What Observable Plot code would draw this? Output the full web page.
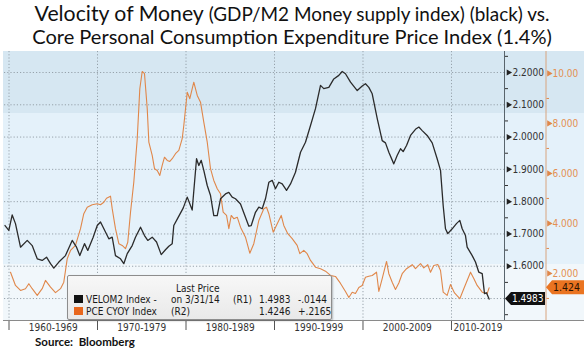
<!DOCTYPE html>
<html><head><meta charset="utf-8">
<script src="https://cdn.jsdelivr.net/npm/d3@7"></script>
<script src="https://cdn.jsdelivr.net/npm/@observablehq/plot@0.6"></script>
<style>
body{margin:0;background:#fff;}
#wrap{position:relative;width:584px;height:353px;overflow:hidden;font-family:"DejaVu Sans Condensed","DejaVu Sans",sans-serif;}
#bg{position:absolute;left:3px;top:51px;width:581px;height:269px;
 background:linear-gradient(to bottom,#d6e7f2 0px,#d6e7f2 62px,#e4f1fa 62px,#e4f1fa 213px,#f1f7fb 213px,#f1f7fb 269px);}
.tl{position:absolute;left:0;width:584px;text-align:center;white-space:nowrap;font-family:Lato,"Open Sans",sans-serif;color:#111;line-height:1.2;}
.tl span.in{display:inline-block;}
#chart{position:absolute;left:0;top:48px;}
#xline{position:absolute;left:3px;top:320px;width:581px;height:1px;background:#8a8a8a;}
#legend{position:absolute;left:67px;top:275px;width:263px;height:43px;border:1px solid #8d8d8d;border-radius:2px;
 background:linear-gradient(to bottom,#f7f7f7,#e9e9e9);box-shadow:1px 1px 2px rgba(0,0,0,.25);font-size:10px;color:#1a1a1a;}
#legend span{position:absolute;white-space:nowrap;line-height:12px;}
#legend i{position:absolute;width:9px;height:8px;}
#source{position:absolute;left:35px;top:335px;font:bold 11.5px Lato,sans-serif;color:#111;line-height:1.2;}
</style></head>
<body>
<div id="wrap">
 <div id="bg"></div>
 <div class="tl" id="t1" style="top:1px;font-size:21px"><span class="in"><span>Velocity of Money</span><span style="font-size:0.89em"> (GDP/M2 Money supply index) (black) vs.</span></span></div>
 <div class="tl" id="t2" style="top:24px;font-size:21px"><span class="in">Core Personal Consumption Expenditure Price Index (1.4%)</span></div>
 <div id="chart"></div>
 <div id="xline"></div>
 <div id="legend"></div>
 <div id="source">Source:&nbsp; Bloomberg</div>
</div>
<script>
// ---- data ----
const velYears = [1959.55,1959.98,1960.36,1960.73,1961.30,1962.06,1962.62,1963.19,1963.75,1964.24,1964.69,1965.06,1965.63,1966.38,1967.14,1967.63,1968.00,1968.53,1968.90,1969.51,1969.97,1970.34,1970.90,1971.28,1971.66,1972.03,1972.60,1972.97,1973.36,1973.92,1974.29,1974.86,1975.31,1975.68,1976.18,1976.67,1977.20,1977.68,1978.06,1978.44,1978.62,1979.07,1979.68,1980.14,1980.70,1981.19,1981.45,1981.72,1982.01,1982.40,1982.77,1983.14,1983.53,1983.90,1984.46,1984.84,1985.22,1985.59,1986.16,1986.72,1987.10,1987.37,1987.85,1988.23,1988.61,1988.98,1989.36,1989.74,1990.11,1990.49,1990.87,1991.36,1991.81,1992.37,1992.94,1993.50,1994.07,1994.63,1995.20,1995.57,1996.14,1996.70,1997.27,1997.65,1998.02,1998.59,1999.35,1999.91,2000.28,2000.66,2001.04,2001.61,2002.17,2002.54,2002.92,2003.48,2003.86,2004.24,2004.54,2004.92,2005.37,2005.93,2006.31,2006.69,2007.25,2007.82,2008.38,2008.76,2009.06,2009.32,2009.58,2010.08,2010.56,2010.94,2011.21,2011.58,2011.77,2012.34,2012.71,2013.08,2013.47,2013.73,2013.95,2014.25];
const velValues = [1.726,1.711,1.759,1.732,1.659,1.680,1.664,1.623,1.618,1.628,1.608,1.594,1.613,1.633,1.680,1.659,1.633,1.670,1.649,1.690,1.726,1.737,1.706,1.685,1.690,1.633,1.623,1.608,1.639,1.664,1.690,1.721,1.695,1.680,1.690,1.675,1.636,1.651,1.662,1.670,1.726,1.749,1.780,1.814,1.774,1.933,1.912,1.928,1.897,1.850,1.819,1.757,1.757,1.809,1.824,1.829,1.814,1.809,1.793,1.752,1.724,1.726,1.767,1.783,1.778,1.809,1.860,1.866,1.840,1.860,1.855,1.835,1.855,1.891,1.953,1.984,2.036,2.088,2.160,2.150,2.154,2.180,2.191,2.203,2.196,2.170,2.144,2.158,2.165,2.154,2.134,2.057,1.989,1.982,1.953,1.917,1.943,1.964,1.955,1.974,2.005,2.024,2.031,2.020,2.005,1.982,1.933,1.897,1.788,1.716,1.701,1.716,1.732,1.742,1.716,1.695,1.659,1.633,1.613,1.582,1.577,1.515,1.518,1.4983];
const pceYears = [1960.17,1960.73,1961.30,1961.86,1962.24,1962.62,1963.19,1963.75,1964.12,1964.69,1965.25,1965.82,1966.19,1966.58,1966.95,1967.51,1968.08,1968.45,1968.84,1969.40,1969.97,1970.34,1970.71,1971.02,1971.47,1971.66,1972.03,1972.41,1972.79,1973.16,1973.42,1973.73,1974.10,1974.49,1974.78,1975.05,1975.31,1975.62,1975.80,1976.18,1976.44,1976.75,1977.04,1977.31,1977.57,1977.88,1978.17,1978.44,1978.81,1979.19,1979.57,1979.75,1980.14,1980.43,1980.88,1981.27,1981.64,1982.01,1982.40,1982.77,1983.14,1983.53,1983.90,1984.20,1984.58,1984.84,1985.11,1985.40,1985.79,1986.16,1986.72,1987.21,1987.66,1988.23,1988.79,1989.10,1989.36,1989.85,1990.31,1990.76,1991.05,1991.50,1992.00,1992.56,1992.86,1993.31,1993.69,1994.07,1994.63,1995.20,1995.76,1996.33,1996.89,1997.46,1998.02,1998.40,1998.78,1999.15,1999.53,1999.91,2000.28,2000.66,2001.04,2001.53,2001.79,2002.17,2002.66,2002.92,2003.30,2003.67,2004.05,2004.43,2004.92,2005.56,2005.93,2006.50,2006.87,2007.32,2007.63,2008.00,2008.45,2008.76,2009.06,2009.51,2009.89,2010.34,2010.94,2011.39,2012.15,2012.52,2012.90,2013.47,2014.03,2014.25];
const pceValues = [2.05,1.52,1.32,1.39,1.59,1.39,1.12,1.39,1.72,1.45,1.23,1.39,1.65,2.59,2.92,3.12,3.79,4.39,4.65,4.75,4.79,4.75,4.85,5.01,5.09,4.59,3.79,3.19,3.12,2.99,3.25,4.45,5.65,7.39,9.39,10.08,9.99,8.59,7.25,6.72,6.19,6.12,5.92,6.32,6.65,6.52,6.48,6.59,6.79,6.92,7.39,7.92,9.25,8.99,9.65,9.12,8.85,8.05,7.25,6.19,5.72,5.39,5.19,4.45,4.32,3.79,4.32,4.19,4.25,3.85,3.45,2.81,3.19,4.12,4.59,4.65,4.39,3.65,3.99,4.32,3.92,3.59,3.39,3.12,2.79,2.92,2.79,2.52,2.25,2.19,2.09,1.92,1.88,1.60,1.28,1.04,1.25,1.20,1.44,1.52,1.85,1.89,1.92,2.05,1.28,1.79,2.48,1.99,1.65,1.36,1.62,1.99,2.19,2.35,2.19,2.39,2.22,2.35,2.05,2.32,2.36,2.12,1.25,1.12,1.56,1.22,0.99,1.39,2.05,1.80,1.52,1.25,1.19,1.4246];
const leftTicks = [1.5,1.6,1.7,1.8,1.9,2.0,2.1,2.2];
const leftMinor = [1.45,1.55,1.65,1.75,1.85,1.95,2.05,2.15,2.25];
const rightTicks = [2,4,6,8,10];
const rightMinor = [1,3,5,7,9];
const decades = [1960,1970,1980,1990,2000,2010];
const decadeLabels = ["1960-1969","1970-1979","1980-1989","1990-1999","2000-2009","2010-2019"];
const lastVel = {label:"1.4983", value:1.4983};
const lastPce = {label:"1.424", value:1.4246};

// scale set-up (right axis % mapped onto left axis)
const xDomain = [1959.49, 2015.99];
const yDomain = [1.432, 2.265];
const rightAt0 = 1.4229, rightPerUnit = 0.07741;
const toLeft = o => rightAt0 + o * rightPerUnit;

const vel = velYears.map((t,i)=>({t, v:velValues[i]}));
const pce = pceYears.map((t,i)=>({t, v:pceValues[i]}));
const orange = "#e0874a", orangeText = "#e39052", grid = "#8e9aa3";
// label centres: middle of each decade, last one centred in what is left of the axis
const labelX = decades.map(d => Math.min(d + 5, (d + xDomain[1]) / 2));
const shownLeft = leftTicks.filter(v => Math.abs(v - lastVel.value) > 0.02);

const plot = Plot.plot({
  width:584, height:305, marginTop:3, marginBottom:33, marginLeft:4, marginRight:80,
  style:{background:"transparent", fontFamily:'"DejaVu Sans Condensed","DejaVu Sans",sans-serif', fontSize:"10px", color:"#333", overflow:"visible"},
  x:{domain:xDomain},
  y:{domain:yDomain},
  marks:[
    Plot.ruleY(leftTicks,{stroke:grid,strokeDasharray:"1.2,2",strokeWidth:0.9}),
    Plot.ruleX(decades,{stroke:grid,strokeDasharray:"1.2,2",strokeWidth:0.9}),
    Plot.line(pce,{x:"t",y:d=>toLeft(d.v),stroke:orange,strokeWidth:1.1}),
    Plot.line(vel,{x:"t",y:"v",stroke:"#2b2b2b",strokeWidth:1.3}),
    Plot.ruleX([xDomain[1]],{stroke:"#58646c",strokeWidth:1}),
    Plot.ruleX([xDomain[1]],{stroke:"#d8a47e",strokeWidth:1,dx:41.5}),
    Plot.axisY(shownLeft,{anchor:"right",tickSize:0,tickPadding:8,tickFormat:d3.format(".4f"),fill:"#333",label:null,fontSize:10}),
    Plot.axisY(leftMinor,{anchor:"right",tickSize:3,tickFormat:()=>"",stroke:"#333",label:null}),
    Plot.dot(shownLeft,{y:d=>d,frameAnchor:"right",dx:4,symbol:"triangle",rotate:90,r:2.3,fill:"#222",stroke:null}),
    Plot.dot(rightTicks,{y:d=>toLeft(d),frameAnchor:"right",dx:44.5,symbol:"triangle",rotate:90,r:2.3,fill:orange,stroke:null}),
    Plot.axisY(rightMinor.map(toLeft),{anchor:"right",tickSize:2.5,tickFormat:()=>"",stroke:orange,dx:41.5,label:null}),
    Plot.text(rightTicks,{y:d=>toLeft(d),text:d=>d3.format(".4r")(d),frameAnchor:"right",dx:48,textAnchor:"start",fill:orangeText,fontSize:10}),
    Plot.axisX(decades,{anchor:"bottom",tickSize:10,tickFormat:()=>"",stroke:"#555",label:null}),
    Plot.text(decades,{x:(d,i)=>labelX[i],text:(d,i)=>decadeLabels[i],frameAnchor:"bottom",dy:10,fill:"#333",fontSize:10})
  ]
});
document.getElementById("chart").appendChild(plot);

// clip the decade labels at the right-hand axis, as in the reference
const ys = plot.scale("y");
const svg = d3.select(plot);
svg.append("defs").append("clipPath").attr("id","xclip").attr("clipPathUnits","userSpaceOnUse")
  .append("rect").attr("x",-10).attr("y",-50).attr("width",513).attr("height",400);
const labelGroups = new Set();
svg.selectAll("text").each(function(){ if (decadeLabels.includes(this.textContent)) labelGroups.add(this.parentNode); });
labelGroups.forEach(g => g.setAttribute("clip-path","url(#xclip)"));

// last-value flags on the two right axes, placed with the plot's y scale
const flags = svg.append("g").attr("text-anchor","start");
const yb = ys.apply(lastVel.value);
flags.append("path").attr("d",`M505,${yb}L511,${yb-6.5}L545,${yb-6.5}L545,${yb+6.5}L511,${yb+6.5}Z`).attr("fill","#111");
flags.append("text").attr("x",512).attr("y",yb).attr("dy","0.36em").attr("text-anchor","start").attr("fill","#fff").attr("font-size",10).text(lastVel.label);
const yo = ys.apply(toLeft(lastPce.value));
flags.append("path").attr("d",`M546,${yo}L552,${yo-7}L584,${yo-7}L584,${yo+7}L552,${yo+7}Z`).attr("fill","#ea7421");
flags.append("text").attr("x",553).attr("y",yo).attr("dy","0.36em").attr("text-anchor","start").attr("fill","#2a1300").attr("font-size",10.5).text(lastPce.label);

// legend box
const lg = document.getElementById("legend");
const items = [
  ["Last Price",108,7],
  ["VELOM2 Index -",18,18],["on 3/31/14",103,18],["(R1)",165,18],["1.4983",191,18],["-.0144",230,18],
  ["PCE CYOY Index",18,30],["(R2)",103,30],["1.4246",191,30],["+.2165",230,30]
];
items.forEach(([t,x,y])=>{const s=document.createElement("span");s.textContent=t;s.style.left=x+"px";s.style.top=y+"px";lg.appendChild(s);});
[["#111",19],["#e8661c",31]].forEach(([c,y])=>{const b=document.createElement("i");b.style.background=c;b.style.left="6px";b.style.top=y+"px";lg.appendChild(b);});

// fit title lines to the reference widths
function fit(id,target){const el=document.getElementById(id);const inn=el.querySelector(".in");const w=inn.getBoundingClientRect().width;const fs=parseFloat(el.style.fontSize);el.style.fontSize=(fs*target/w)+"px";}
fit("t1",515); fit("t2",520);
</script>
</body></html>
